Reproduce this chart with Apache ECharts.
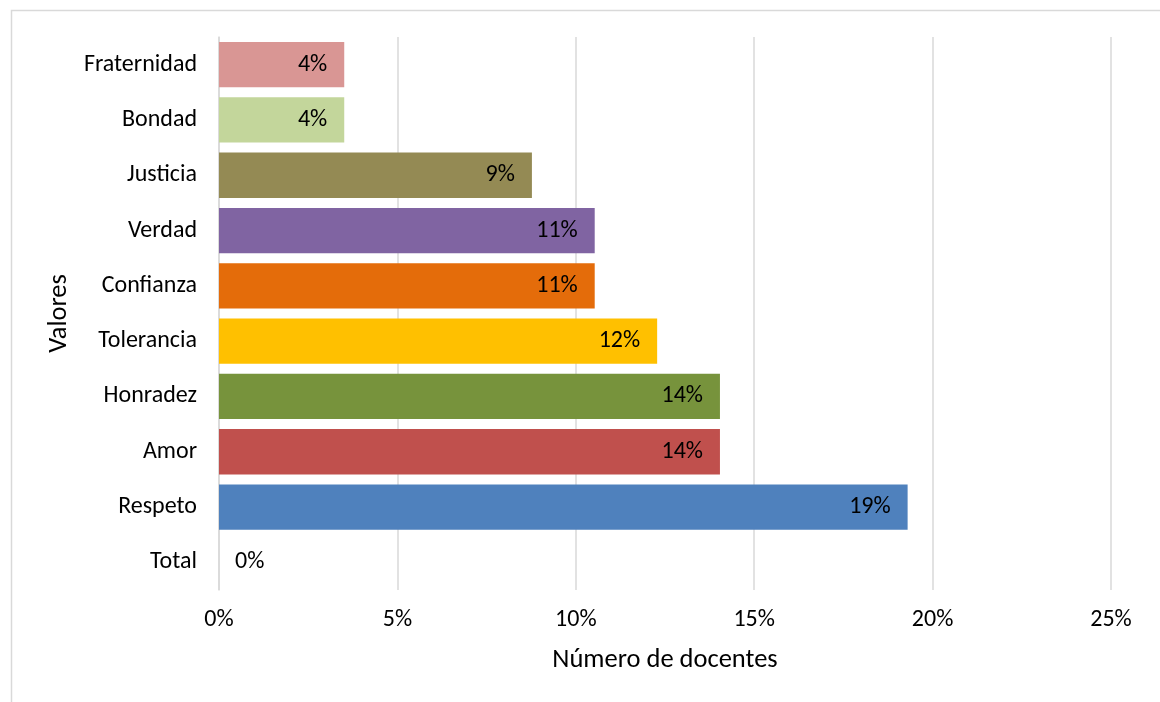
<!DOCTYPE html>
<html>
<head>
<meta charset="utf-8">
<script src="https://cdn.jsdelivr.net/npm/echarts@6/dist/echarts.min.js"></script>
<style>
html,body{margin:0;padding:0;background:#fff;}
#c{width:1160px;height:702px;}
</style>
</head>
<body>
<div id="c"></div>
<script>
// Data (bottom to top order as drawn on the category axis)
var categories = ['Total', 'Respeto', 'Amor', 'Honradez', 'Tolerancia', 'Confianza', 'Verdad', 'Justicia', 'Bondad', 'Fraternidad'];
var values = [0, 0.193, 0.1404, 0.1404, 0.1228, 0.1053, 0.1053, 0.0877, 0.0351, 0.0351];
var colors = ['#4F81BD', '#4F81BD', '#C0504D', '#77933C', '#FFC000', '#E46C0A', '#8064A2', '#948A54', '#C3D69B', '#D99694'];
var xTicks = [0, 0.05, 0.10, 0.15, 0.20, 0.25];
var xTitle = 'Número de docentes';
var yTitle = 'Valores';

var FONT = 'Carlito, Calibri, Lato, sans-serif';
var chart = echarts.init(document.getElementById('c'));
chart.setOption({
  animation: false,
  backgroundColor: '#fff',
  graphic: [{
    type: 'rect', left: 9, top: 8, z: -1,
    shape: {width: 1170, height: 710},
    style: {fill: 'none', stroke: '#d9d9d9', lineWidth: 1.5}
  }],
  grid: {left: 219, right: 49, top: 37, bottom: 112, containLabel: false},
  xAxis: {
    type: 'value', min: xTicks[0], max: xTicks[xTicks.length - 1], interval: 0.05,
    axisLine: {show: false}, axisTick: {show: false},
    splitLine: {lineStyle: {color: '#d9d9d9', width: 1.5}},
    axisLabel: {
      color: '#000', fontFamily: FONT, fontSize: 24, margin: 18,
      formatter: function (v) { return Math.round(v * 100) + '%'; }
    },
    name: xTitle, nameLocation: 'middle', nameGap: 57,
    nameTextStyle: {color: '#000', fontFamily: FONT, fontSize: 26.5}
  },
  yAxis: {
    type: 'category', data: categories,
    axisLine: {show: true, lineStyle: {color: '#d9d9d9', width: 1.5}},
    axisTick: {show: false},
    axisLabel: {color: '#000', fontFamily: FONT, fontSize: 24, margin: 22},
    name: yTitle, nameLocation: 'middle', nameGap: 142, nameRotate: 90,
    nameTextStyle: {color: '#000', fontFamily: FONT, fontSize: 26.5}
  },
  series: [{
    type: 'bar',
    data: values.map(function (v, i) {
      var d = {value: v, itemStyle: {color: colors[i]}};
      if (v === 0) d.label = {position: 'right', distance: 16};
      return d;
    }),
    barCategoryGap: '18%',
    label: {
      show: true,
      position: 'insideRight',
      distance: 17,
      color: '#000', fontFamily: FONT, fontSize: 24,
      formatter: function (p) { return Math.round(p.value * 100) + '%'; }
    }
  }]
});
</script>
</body>
</html>
